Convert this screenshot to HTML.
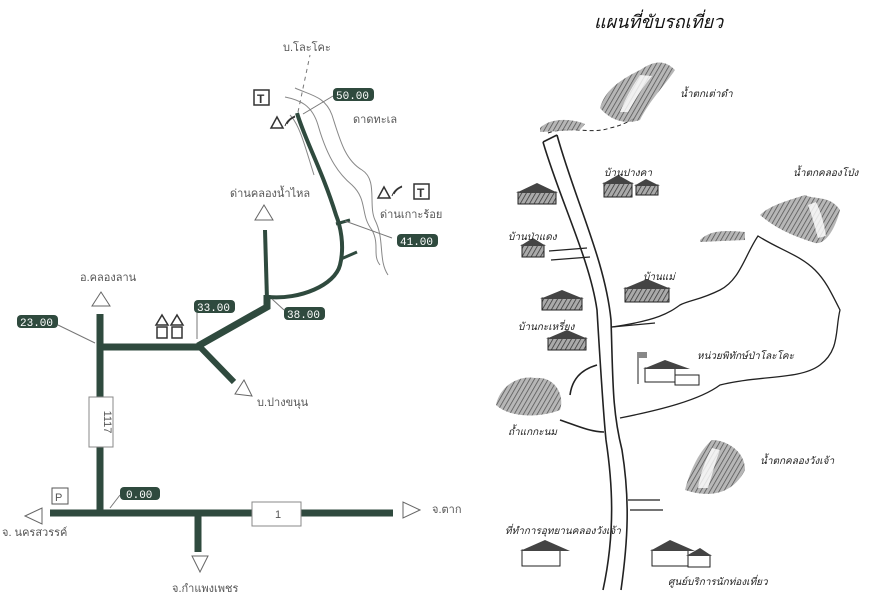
<!DOCTYPE html>
<html><head><meta charset="utf-8"><style>
html,body{margin:0;padding:0;background:#fff;}
svg{display:block;}
.t{font-family:"Liberation Sans","Noto Sans CJK SC",sans-serif;fill:#555;font-size:11px;}
.th{font-family:"Liberation Sans","Noto Sans CJK SC",sans-serif;fill:#222;font-size:10px;font-style:italic;}
.km{font-family:"Liberation Mono",monospace;fill:#fff;font-size:11px;}
</style></head><body>
<svg width="878" height="608" viewBox="0 0 878 608" xmlns="http://www.w3.org/2000/svg">
<defs>
<pattern id="h" width="4" height="4" patternUnits="userSpaceOnUse" patternTransform="rotate(30)"><rect width="4" height="4" fill="#aaa"/><line x1="0" y1="0" x2="0" y2="4" stroke="#333" stroke-width="1.5"/></pattern>
</defs>
<rect width="878" height="608" fill="#fff"/>
<!-- LEFT MAP -->
<g fill="none" stroke="#2f4a3e" stroke-linecap="butt">
 <line x1="50" y1="513" x2="393" y2="513" stroke-width="7"/>
 <line x1="198" y1="513" x2="198" y2="552" stroke-width="7"/>
 <line x1="100" y1="314" x2="100" y2="513" stroke-width="7"/>
 <line x1="100" y1="347" x2="200" y2="347" stroke-width="7"/>
 <polyline points="198,346 267,307 267,295" stroke-width="7"/>
 <line x1="200" y1="347" x2="234" y2="382" stroke-width="6"/>
 <line x1="265" y1="230" x2="267" y2="300" stroke-width="4"/>
 <path d="M268,297 C300,300 335,285 340,265 C345,245 340,225 336,215 C322,170 305,140 297,113" stroke-width="4"/>
 <line x1="336" y1="224" x2="350" y2="220" stroke-width="3"/>
 <line x1="341" y1="259" x2="357" y2="252" stroke-width="3"/>
</g>
<g fill="none" stroke="#888" stroke-width="1">
 <path d="M285,97 C300,100 312,105 318,125 C328,160 340,175 352,185 C368,200 360,215 372,230 C380,245 372,255 380,265"/>
 <path d="M295,88 C310,95 325,96 332,115 C340,140 345,160 362,170 C378,180 368,205 375,220 C385,240 378,260 388,275"/>
 <path d="M290,115 C300,125 306,150 314,175"/>
</g>
<line x1="298" y1="112" x2="310" y2="55" stroke="#777" stroke-dasharray="4,4"/>
<rect x="89" y="397" width="24" height="50" fill="#fff" stroke="#888"/>
<text class="t" transform="translate(104,422) rotate(90)" text-anchor="middle" font-size="9" fill="#999">1117</text>
<rect x="252" y="502" width="49" height="24" fill="#fff" stroke="#888"/>
<text class="t" x="275" y="518" font-size="9" fill="#999">1</text>
<rect x="52" y="488" width="16" height="16" fill="#fff" stroke="#555"/>
<text class="t" x="55" y="501" font-size="12" font-family="Liberation Serif">P</text>
<rect x="254" y="90" width="15" height="15" fill="#fff" stroke="#333" stroke-width="1.5"/>
<text x="257" y="103" font-family="Liberation Sans" font-weight="bold" font-size="12" fill="#333">T</text>
<rect x="414" y="184" width="15" height="15" fill="#fff" stroke="#333" stroke-width="1.5"/>
<text x="417" y="197" font-family="Liberation Sans" font-weight="bold" font-size="12" fill="#333">T</text>
<g fill="#fff" stroke="#666">
 <polygon points="25,516 42,508 42,524"/>
 <polygon points="420,510 403,502 403,518"/>
 <polygon points="192,556 208,556 200,572"/>
 <polygon points="101,292 110,306 92,306"/>
 <polygon points="264,205 273,220 255,220"/>
 <polygon points="244,380 252,396 235,394"/>
</g>
<g fill="#fff" stroke="#333" stroke-width="1.5">
 <polygon points="277,117 283,128 271,128"/>
 <polygon points="384,187 390,198 378,198"/>
 <polygon points="162,315 168,325 156,325"/><rect x="157" y="327" width="10" height="11"/>
 <polygon points="177,315 183,325 171,325"/><rect x="172" y="327" width="10" height="11"/>
</g>
<g fill="none" stroke="#333" stroke-width="1"><path d="M285,126 c2,-6 6,-8 10,-10 M287,124 c2,-4 5,-6 8,-7"/><path d="M392,196 c2,-6 6,-8 10,-10 M394,194 c2,-4 5,-6 8,-7"/></g>
<g fill="#2f4a3e">
 <rect x="333" y="88" width="41" height="13" rx="4"/>
 <rect x="397" y="234" width="41" height="13" rx="4"/>
 <rect x="194" y="300" width="41" height="13" rx="4"/>
 <rect x="284" y="307" width="41" height="13" rx="4"/>
 <rect x="17" y="315" width="41" height="13" rx="4"/>
 <rect x="120" y="487" width="40" height="13" rx="4"/>
</g>
<g class="km"><text x="336" y="99">50.00</text><text x="400" y="245">41.00</text><text x="197" y="311">33.00</text><text x="287" y="318">38.00</text><text x="20" y="326">23.00</text><text x="126" y="498">0.00</text></g>
<g stroke="#777" stroke-width="1">
 <line x1="333" y1="96" x2="303" y2="114"/>
 <line x1="392" y1="238" x2="345" y2="221"/>
 <line x1="197" y1="313" x2="197" y2="339"/>
 <line x1="284" y1="310" x2="272" y2="299"/>
 <line x1="58" y1="325" x2="95" y2="343"/>
 <line x1="120" y1="495" x2="110" y2="508"/>
</g>
<g class="t">
 <text x="283" y="51">บ.โละโคะ</text>
 <text x="353" y="123">ดาดทะเล</text>
 <text x="380" y="218">ด่านเกาะร้อย</text>
 <text x="230" y="197">ด่านคลองน้ำไหล</text>
 <text x="80" y="281">อ.คลองลาน</text>
 <text x="257" y="406">บ.ปางขนุน</text>
 <text x="2" y="536">จ. นครสวรรค์</text>
 <text x="432" y="513">จ.ตาก</text>
 <text x="172" y="592">จ.กำแพงเพชร</text>
</g>
<!-- RIGHT MAP -->
<text x="594" y="28" font-family="Liberation Sans,'Noto Sans CJK SC',sans-serif" font-style="italic" font-size="18" fill="#111">แผนที่ขับรถเที่ยว</text>
<g fill="none" stroke="#222" stroke-width="1.6">
 <path d="M543,142 C560,200 590,260 597,310 C600,360 603,410 606,440 C612,480 616,530 603,590"/>
 <path d="M557,135 C575,200 605,260 611,320 C613,380 612,410 622,450 C630,500 628,540 621,590"/>
 <path d="M543,142 L557,135"/>
 <path d="M548,133 C570,125 590,135 610,128 C620,126 628,122 635,118" stroke-width="1" stroke-dasharray="4,3"/>
 <path d="M549,251 L587,248 M551,260 L590,257" stroke-width="1.3"/>
 <path d="M612,327 L655,323" stroke-width="1.3"/>
 <path d="M597,365 C580,370 572,380 570,395 M560,420 C575,425 590,432 604,432"/>
 <path d="M620,418 C660,410 700,400 720,385 C760,375 800,380 820,365 C840,350 835,330 840,310 C830,290 825,280 815,270 C800,255 780,250 758,236 C745,255 740,280 720,290 C700,300 690,300 680,305 C670,312 660,320 612,327" stroke-width="1.3"/>
 <path d="M628,500 L660,500 M630,510 L663,510" stroke-width="1.3"/>
</g>
<g fill="url(#h)" opacity="0.85">
 <path d="M600,108 C605,90 620,80 640,70 C655,60 665,60 675,70 C665,85 650,100 640,120 C625,125 610,120 600,108Z"/>
 <path d="M540,128 C550,118 570,118 585,124 L580,130 L540,132Z"/>
 <path d="M760,215 C770,205 790,200 805,195 C815,200 830,195 840,210 C835,230 825,245 815,243 C800,238 780,232 760,215Z"/>
 <path d="M496,405 C500,385 520,375 535,378 C555,376 565,395 560,410 C540,418 510,418 496,405Z"/>
 <path d="M685,490 C690,470 700,450 712,440 C725,440 745,450 745,470 C735,490 715,500 685,490Z"/>
 <path d="M700,240 C710,230 725,230 745,232 L745,240 L700,242Z"/>
</g>
<g fill="#fff" opacity="0.8">
 <path d="M640,75 C630,90 625,100 620,112 L628,112 C635,100 642,88 652,76Z"/>
 <path d="M808,205 C812,215 815,228 818,238 L826,236 C824,222 820,210 816,202Z"/>
 <path d="M712,448 C705,460 700,475 698,488 L708,488 C712,475 716,460 720,450Z"/>
</g>
<g fill="url(#h)" stroke="#222" stroke-width="1">
 <rect x="518" y="192" width="38" height="12"/><rect x="604" y="183" width="28" height="14"/><rect x="636" y="185" width="22" height="10"/>
 <rect x="522" y="245" width="22" height="12"/><rect x="542" y="298" width="40" height="12"/><rect x="625" y="288" width="44" height="14"/>
 <rect x="548" y="338" width="38" height="12"/>
</g>
<g fill="#fff" stroke="#222" stroke-width="1">
 <rect x="645" y="368" width="30" height="14"/><rect x="675" y="375" width="24" height="10"/>
 <rect x="522" y="550" width="38" height="16"/><rect x="652" y="550" width="36" height="16"/><rect x="688" y="555" width="22" height="12"/>
</g>
<g fill="#444">
 <polygon points="516,193 537,183 558,193"/><polygon points="602,184 618,175 634,184"/><polygon points="634,186 646,179 660,186"/>
 <polygon points="520,246 533,238 546,246"/><polygon points="540,299 562,290 584,299"/><polygon points="623,289 647,279 671,289"/>
 <polygon points="546,339 567,330 588,339"/><polygon points="643,369 665,360 690,369"/><polygon points="520,551 545,540 570,551"/>
 <polygon points="650,551 670,540 695,551"/><polygon points="686,556 700,548 712,556"/>
</g>
<line x1="638" y1="352" x2="638" y2="384" stroke="#222"/><rect x="638" y="352" width="9" height="6" fill="#888"/>
<g class="th">
 <text x="680" y="97">น้ำตกเต่าดำ</text>
 <text x="604" y="176">บ้านปางคา</text>
 <text x="793" y="176">น้ำตกคลองโป่ง</text>
 <text x="508" y="240">บ้านป่าแดง</text>
 <text x="643" y="280">บ้านแม่</text>
 <text x="518" y="330">บ้านกะเหรี่ยง</text>
 <text x="697" y="359">หน่วยพิทักษ์ป่าโละโคะ</text>
 <text x="508" y="435">ถ้ำแกกะนม</text>
 <text x="760" y="464">น้ำตกคลองวังเจ้า</text>
 <text x="505" y="534">ที่ทำการอุทยานคลองวังเจ้า</text>
 <text x="668" y="585">ศูนย์บริการนักท่องเที่ยว</text>
</g>
</svg>
</body></html>
